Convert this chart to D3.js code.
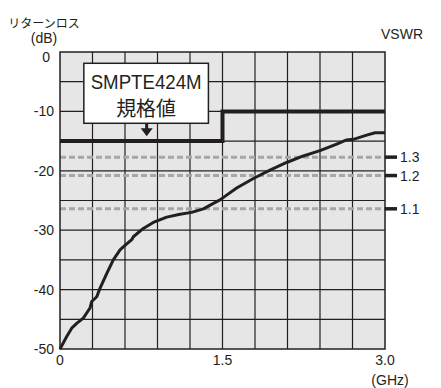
<!DOCTYPE html>
<html>
<head>
<meta charset="utf-8">
<script src="https://cdn.jsdelivr.net/npm/d3@7"></script>
<style>
  body { margin: 0; background: #fff; }
  svg text { font-family: "Liberation Sans", Arial, sans-serif; fill: #231f20; }
  .jp { font-family: "Noto Sans CJK JP", sans-serif; }
</style>
</head>
<body>
<div id="chart"></div>
<script>
// measured return loss curve
const freqGHz = [0, 0.062, 0.108, 0.154, 0.215, 0.277, 0.293, 0.339, 0.369, 0.431, 0.492, 0.554, 0.584,
  0.662, 0.677, 0.769, 0.861, 0.985, 1.108, 1.215, 1.323, 1.446, 1.477, 1.538, 1.631, 1.785, 1.938,
  2.092, 2.246, 2.4, 2.554, 2.646, 2.708, 2.831, 2.908, 3.0];
const returnLossDb = [-50, -47.9, -46.5, -45.7, -44.8, -43.1, -42.0, -41.2, -39.8, -37.3, -35.0, -33.3, -32.8,
  -31.6, -31.1, -29.7, -28.7, -27.8, -27.3, -27.0, -26.4, -25.2, -24.9, -24.1, -22.9, -21.3, -19.9,
  -18.6, -17.5, -16.6, -15.5, -14.8, -14.7, -14.0, -13.6, -13.6];

// SMPTE424M limit
const specFreq = [0, 1.5, 1.5, 3.0];
const specDb = [-15, -15, -10, -10];

// VSWR reference lines
const vswrLabels = ['1.3', '1.2', '1.1'];
const vswrDb = [-17.7, -20.8, -26.4];

const yTicks = [0, -10, -20, -30, -40, -50];
const xTickValues = [0, 1.5, 3.0];
const xTickLabels = ['0', '1.5', '3.0'];

const width = 441, height = 388;
const margin = { top: 52, right: 56, bottom: 39, left: 60 };
const w = width - margin.left - margin.right, h = height - margin.top - margin.bottom;

const svg = d3.select('#chart').append('svg')
  .attr('width', width)
  .attr('height', height);
const g = svg.append('g').attr('transform', `translate(${margin.left},${margin.top})`);

const x = d3.scaleLinear().domain([0, 3]).range([0, w]);
const y = d3.scaleLinear().domain([-50, 0]).range([h, 0]);

// plot background
g.append('rect').attr('width', w).attr('height', h).attr('fill', '#e6e6e6');

// grid: 0.3 GHz / 5 dB
g.append('g').selectAll('line').data(d3.range(1, 10).map(i => i * 0.3))
  .join('line')
  .attr('x1', d => x(d)).attr('x2', d => x(d))
  .attr('y1', 0).attr('y2', h)
  .attr('stroke', '#231f20').attr('stroke-width', 1.2);
g.append('g').selectAll('line').data(d3.range(1, 10).map(i => -i * 5))
  .join('line')
  .attr('x1', 0).attr('x2', w)
  .attr('y1', d => y(d)).attr('y2', d => y(d))
  .attr('stroke', '#231f20').attr('stroke-width', 1.2);

// VSWR dashed lines
g.append('g').selectAll('line').data(vswrDb)
  .join('line')
  .attr('x1', 0).attr('x2', w)
  .attr('y1', d => y(d)).attr('y2', d => y(d))
  .attr('stroke', '#a7a7a7').attr('stroke-width', 3)
  .attr('stroke-dasharray', '6,3');

// frame
g.append('rect').attr('width', w).attr('height', h)
  .attr('fill', 'none').attr('stroke', '#231f20').attr('stroke-width', 1.5);

// VSWR ticks and labels on the right
vswrDb.forEach((d, i) => {
  g.append('line')
    .attr('x1', w).attr('x2', w + 12)
    .attr('y1', y(d)).attr('y2', y(d))
    .attr('stroke', '#231f20').attr('stroke-width', 3.5);
  g.append('text')
    .attr('x', w + 15).attr('y', y(d)).attr('dy', '0.36em')
    .style('font-size', '14px')
    .text(vswrLabels[i]);
});

// return loss curve
const line = d3.line().x(d => x(d[0])).y(d => y(d[1]));
g.append('path')
  .datum(freqGHz.map((f, i) => [f, returnLossDb[i]]))
  .attr('fill', 'none')
  .attr('stroke', '#231f20')
  .attr('stroke-width', 3)
  .attr('stroke-linejoin', 'round')
  .attr('d', line);

// spec limit
g.append('path')
  .datum(specFreq.map((f, i) => [f, specDb[i]]))
  .attr('fill', 'none')
  .attr('stroke', '#231f20')
  .attr('stroke-width', 4)
  .attr('d', line);

// annotation box
const box = { x0: 0.22, x1: 1.37, top: -1.9, bottom: -12.0 };
g.append('rect')
  .attr('x', x(box.x0)).attr('y', y(box.top))
  .attr('width', x(box.x1) - x(box.x0)).attr('height', y(box.bottom) - y(box.top))
  .attr('fill', '#fff').attr('stroke', '#231f20').attr('stroke-width', 1.5);
const bx = (x(box.x0) + x(box.x1)) / 2;
g.append('text')
  .attr('x', bx).attr('y', y(box.top) + 26)
  .attr('text-anchor', 'middle')
  .attr('textLength', 111).attr('lengthAdjust', 'spacingAndGlyphs')
  .style('font-size', '21px')
  .text('SMPTE424M');
g.append('text')
  .attr('class', 'jp')
  .attr('x', bx).attr('y', y(box.top) + 53)
  .attr('text-anchor', 'middle')
  .style('font-size', '20px')
  .text('規格値');

// arrow to the limit line
const ax = x(0.8);
g.append('line')
  .attr('x1', ax).attr('x2', ax)
  .attr('y1', y(box.bottom)).attr('y2', y(box.bottom) + 6)
  .attr('stroke', '#231f20').attr('stroke-width', 3);
g.append('path')
  .attr('d', `M${ax - 6},${y(box.bottom) + 5} L${ax + 6},${y(box.bottom) + 5} L${ax},${y(box.bottom) + 13} Z`)
  .attr('fill', '#231f20');

// y axis labels (the top one sits just below the frame)
g.append('g').selectAll('text').data(yTicks)
  .join('text')
  .attr('x', d => d === 0 ? -10 : -6)
  .attr('y', d => d === 0 ? y(d) + 5 : y(d)).attr('dy', '0.36em')
  .attr('text-anchor', 'end')
  .style('font-size', '14px')
  .text(d => d);

// x axis labels
g.append('g').selectAll('text').data(xTickValues)
  .join('text')
  .attr('x', d => x(d)).attr('y', h + 16)
  .attr('text-anchor', 'middle')
  .style('font-size', '14px')
  .text((d, i) => xTickLabels[i]);

// titles
svg.append('text').attr('class', 'jp')
  .attr('x', 44).attr('y', 28)
  .attr('text-anchor', 'middle')
  .style('font-size', '12px')
  .text('リターンロス');
svg.append('text')
  .attr('x', 44).attr('y', 43)
  .attr('text-anchor', 'middle')
  .style('font-size', '14px')
  .text('(dB)');
svg.append('text')
  .attr('x', 402).attr('y', 39)
  .attr('text-anchor', 'middle')
  .style('font-size', '14px')
  .text('VSWR');
svg.append('text')
  .attr('x', 390).attr('y', 385)
  .attr('text-anchor', 'middle')
  .style('font-size', '14px')
  .text('(GHz)');
</script>
</body>
</html>
